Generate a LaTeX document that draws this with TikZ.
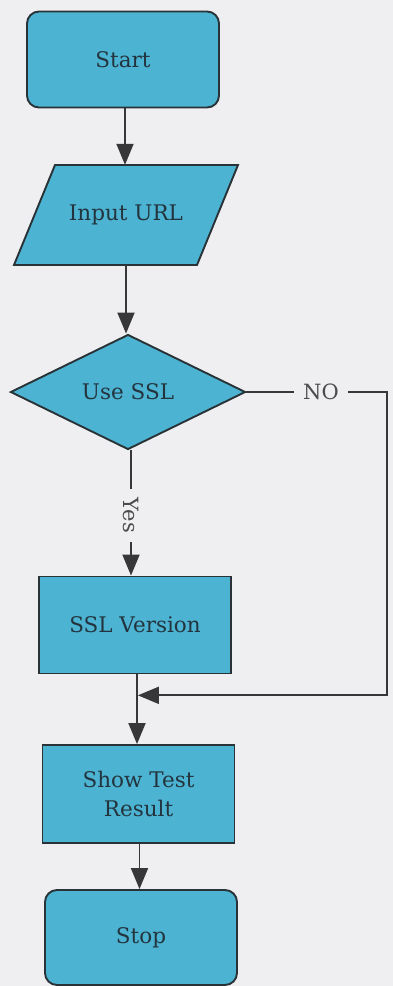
\documentclass[tikz,border=0pt]{standalone}
\usepackage{fontspec}
\setmainfont{DejaVu Serif}
\usetikzlibrary{shapes.geometric,arrows.meta,calc}
\definecolor{bg}{RGB}{239,239,241}
\definecolor{boxblue}{RGB}{76,180,210}
\definecolor{edge}{RGB}{40,50,55}
\definecolor{conncol}{RGB}{55,55,58}
\definecolor{txt}{RGB}{35,52,62}
\definecolor{lbl}{RGB}{75,75,78}
\tikzset{
  shapebox/.style={draw=edge, line width=1.9pt, fill=boxblue, text=txt, font=\fontsize{21.5}{29}\selectfont, align=center, inner sep=0pt},
  termbox/.style={shapebox, rounded corners=12pt, minimum width=192pt, minimum height=96pt},
  procbox/.style={shapebox, minimum width=192pt, minimum height=97pt},
  conn/.style={draw=conncol, line width=1.9pt, -{Triangle[width=17pt,length=21pt]}},
  lbltext/.style={fill=bg, text=lbl, font=\fontsize{21}{24}\selectfont, inner sep=0pt}
}
\begin{document}
\begin{tikzpicture}[x=1pt,y=-1pt]
\fill[bg] (0,0) rectangle (393,986);
\useasboundingbox (0,0) rectangle (393,986);
% nodes
\node[termbox] (start) at (123,59.5) {Start};
\filldraw[draw=edge, line width=1.9pt, fill=boxblue, line join=miter] (55,165) -- (238,165) -- (197,265) -- (14,265) -- cycle;
\node[text=txt, font=\fontsize{21.5}{29}\selectfont, minimum width=183pt, minimum height=100pt, inner sep=0pt] (input) at (126,215) {Input URL};
\node[shapebox, diamond, minimum width=235pt, minimum height=115pt] (ssl) at (128,392) {Use SSL};
\node[procbox] (sslv) at (135,625) {SSL Version};
\node[procbox, minimum height=98pt] (show) at (138.5,794) {Show Test\\Result};
\node[termbox, minimum height=95pt] (stop) at (141,937.5) {Stop};
% coordinates
\coordinate (nr) at (387,392);
\coordinate (j) at ($(sslv.south)!0.3!(show.north)$);
% connectors
\draw[conn] (start.south) ++(2,0) coordinate (st) -- (st |- input.north);
\draw[conn] (input.south) -- (input.south |- ssl.north);
\draw[conn] (ssl.south) ++(3,0) coordinate (ys) -- node[lbltext, rotate=-90, inner xsep=9pt, pos=0.52] {Yes} (ys |- sslv.north);
\draw[conn] (sslv.south) ++(2,0) coordinate (ss) -- (ss |- show.north);
\draw[conn] (show.south) ++(1,0) coordinate (sh) -- (sh |- stop.north);
\draw[conn, shorten >=0.9pt] (ssl.east) -- node[lbltext, inner xsep=9pt, pos=0.53] {NO} (nr) -- (nr |- j) -- (ss |- j);
\end{tikzpicture}
\end{document}
